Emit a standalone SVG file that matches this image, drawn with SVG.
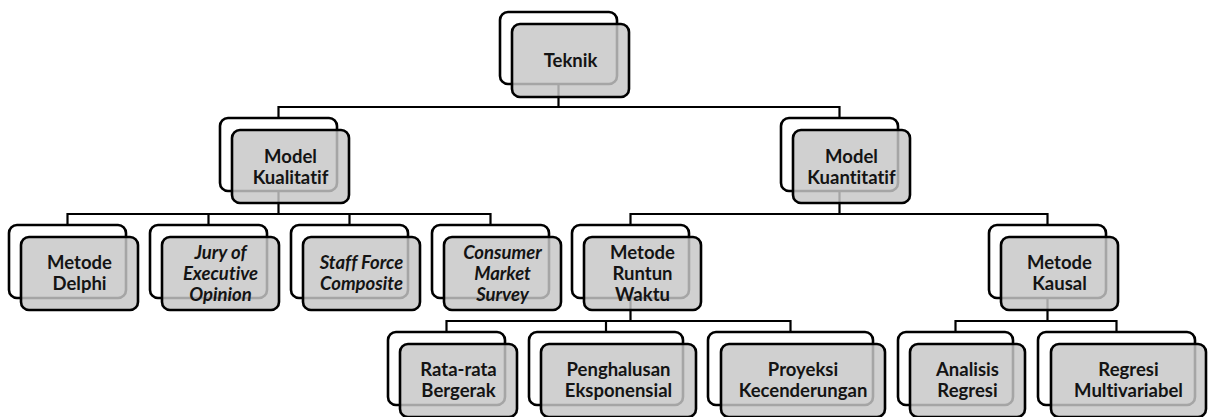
<svg xmlns="http://www.w3.org/2000/svg" width="1208" height="417" viewBox="0 0 1208 417">
<style>
.bk{fill:#ffffff;stroke:#000;stroke-width:2.6}
.fr{fill:#c6c6c6;fill-opacity:0.83;stroke:#000;stroke-width:2.6}
.t{font-family:"Lato","Liberation Sans",sans-serif;font-weight:bold;font-size:18.5px;fill:#141414;text-anchor:middle;font-variant-ligatures:none;font-feature-settings:"liga" 0,"dlig" 0}
.i{font-style:italic}
.c{fill:none;stroke:#000;stroke-width:2.2}
</style>
<rect width="1208" height="417" fill="#fff"/>
<g id="connectors">
<path class="c" d="M558.5 84V107M278.5 118V107H839.5V118"/>
<path class="c" d="M278.5 191V214M67.5 225V214H490.5V225M208.5 214V225M349.5 214V225"/>
<path class="c" d="M839.5 191V214M630.5 225V214H1047.5V225"/>
<path class="c" d="M630.5 298V321M446.5 332V321H790.5V332M606 321V332"/>
<path class="c" d="M1047.5 298V321M955.5 332V321H1116.5V332"/>
</g>
<g id="teknik">
<rect class="bk" x="500" y="12" width="117" height="72" rx="8"/>
<rect class="fr" x="512" y="24" width="117" height="73" rx="8"/>
<text class="t" x="570.5" y="67">Teknik</text>
</g>
<g id="model-kualitatif">
<rect class="bk" x="220" y="118" width="117" height="73" rx="8"/>
<rect class="fr" x="232" y="130" width="117" height="73" rx="8"/>
<text class="t" x="290.5" y="163">Model</text>
<text class="t" x="290.5" y="184">Kualitatif</text>
</g>
<g id="model-kuantitatif">
<rect class="bk" x="781" y="118" width="117" height="73" rx="8"/>
<rect class="fr" x="793" y="130" width="117" height="73" rx="8"/>
<text class="t" x="851.5" y="163">Model</text>
<text class="t" x="851.5" y="184">Kuantitatif</text>
</g>
<g id="metode-delphi">
<rect class="bk" x="9" y="225" width="117" height="73" rx="8"/>
<rect class="fr" x="21" y="237" width="117" height="73" rx="8"/>
<text class="t" x="79.5" y="269">Metode</text>
<text class="t" x="79.5" y="290">Delphi</text>
</g>
<g id="jury">
<rect class="bk" x="150" y="225" width="117" height="73" rx="8"/>
<rect class="fr" x="162" y="237" width="117" height="73" rx="8"/>
<text class="t i" x="220.5" y="259">Jury of</text>
<text class="t i" x="220.5" y="280">Executive</text>
<text class="t i" x="220.5" y="301">Opinion</text>
</g>
<g id="staff-force">
<rect class="bk" x="291" y="225" width="117" height="73" rx="8"/>
<rect class="fr" x="303" y="237" width="117" height="73" rx="8"/>
<text class="t i" x="361.5" y="269">Staff Force</text>
<text class="t i" x="361.5" y="290">Composite</text>
</g>
<g id="consumer-market">
<rect class="bk" x="432" y="225" width="117" height="73" rx="8"/>
<rect class="fr" x="444" y="237" width="117" height="73" rx="8"/>
<text class="t i" x="502.5" y="259">Consumer</text>
<text class="t i" x="502.5" y="280">Market</text>
<text class="t i" x="502.5" y="301">Survey</text>
</g>
<g id="runtun-waktu">
<rect class="bk" x="572" y="225" width="117" height="73" rx="8"/>
<rect class="fr" x="584" y="237" width="117" height="73" rx="8"/>
<text class="t" x="642.5" y="259">Metode</text>
<text class="t" x="642.5" y="280">Runtun</text>
<text class="t" x="642.5" y="301">Waktu</text>
</g>
<g id="metode-kausal">
<rect class="bk" x="989" y="225" width="117" height="73" rx="8"/>
<rect class="fr" x="1001" y="237" width="117" height="73" rx="8"/>
<text class="t" x="1059.5" y="269">Metode</text>
<text class="t" x="1059.5" y="290">Kausal</text>
</g>
<g id="rata-rata">
<rect class="bk" x="388" y="332" width="117" height="73" rx="8"/>
<rect class="fr" x="400" y="344" width="117" height="73" rx="8"/>
<text class="t" x="458.5" y="376">Rata-rata</text>
<text class="t" x="458.5" y="397">Bergerak</text>
</g>
<g id="penghalusan">
<rect class="bk" x="529" y="332" width="154" height="73" rx="8"/>
<rect class="fr" x="541" y="344" width="155" height="73" rx="8"/>
<text class="t" x="618.5" y="376">Penghalusan</text>
<text class="t" x="618.5" y="397">Eksponensial</text>
</g>
<g id="proyeksi">
<rect class="bk" x="708" y="332" width="165" height="73" rx="8"/>
<rect class="fr" x="721" y="344" width="164" height="73" rx="8"/>
<text class="t" x="803" y="376">Proyeksi</text>
<text class="t" x="803" y="397">Kecenderungan</text>
</g>
<g id="analisis-regresi">
<rect class="bk" x="898" y="332" width="115" height="73" rx="8"/>
<rect class="fr" x="910" y="344" width="115" height="73" rx="8"/>
<text class="t" x="967.5" y="376">Analisis</text>
<text class="t" x="967.5" y="397">Regresi</text>
</g>
<g id="regresi-multivariabel">
<rect class="bk" x="1038" y="332" width="157" height="73" rx="8"/>
<rect class="fr" x="1051" y="344" width="155" height="73" rx="8"/>
<text class="t" x="1128.5" y="376">Regresi</text>
<text class="t" x="1128.5" y="397">Multivariabel</text>
</g>
</svg>
